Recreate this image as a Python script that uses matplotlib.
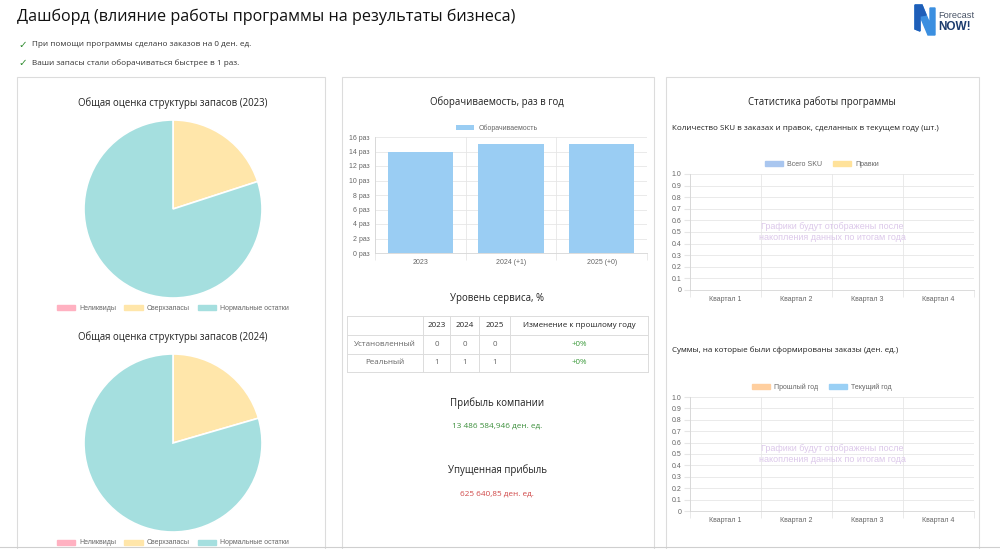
import matplotlib.pyplot as plt
from matplotlib.patches import Rectangle, Polygon
import numpy as np

W, H = 1000, 549

# --- data ---
stock_labels = ["Неликвиды", "Сверхзапасы", "Нормальные остатки"]
stock_2023 = [0, 20, 80]
stock_2024 = [0, 20.5, 79.5]
stock_colors = ["#ffb1c1", "#ffe6aa", "#a5dfdf"]

turn_years = ["2023", "2024 (+1)", "2025 (+0)"]
turn_values = [14, 15, 15]
turn_ticks = [0, 2, 4, 6, 8, 10, 12, 14, 16]

service_cols = ["", "2023", "2024", "2025", "Изменение к прошлому году"]
service_rows = ["Установленный", "Реальный"]
service_values = [[0, 0, 0], [1, 1, 1]]
service_change = ["+0%", "+0%"]

profit = "13 486 584,946 ден. ед."
lost_profit = "625 640,85 ден. ед."

quarters = ["Квартал 1", "Квартал 2", "Квартал 3", "Квартал 4"]
sku_total = []
sku_edits = []
sum_prev = []
sum_cur = []
empty_ticks = [0, 0.1, 0.2, 0.3, 0.4, 0.5, 0.6, 0.7, 0.8, 0.9, 1.0]

HEAD = ["Open Sans", "DejaVu Sans"]
CHART = ["Liberation Sans", "DejaVu Sans"]
GRID = "#e6e6e6"
TICK = "#666666"
HSIZE = 6.9


def box(x0, y0, x1, y1):
    return [x0 / W, 1 - y1 / H, (x1 - x0) / W, (y1 - y0) / H]


def fy(y):
    return 1 - y / H


fig = plt.figure(figsize=(10, 5.49), dpi=100)
bg = fig.add_axes([0, 0, 1, 1])
bg.set_xlim(0, W)
bg.set_ylim(H, 0)
bg.axis("off")

# header
bg.text(17, 17, "Дашборд (влияние работы программы на результаты бизнеса)",
        fontsize=11.6, family=HEAD, color="#111", va="center")
for y, t in [(45, "При помощи программы сделано заказов на 0 ден. ед."),
             (63, "Ваши запасы стали оборачиваться быстрее в 1 раз.")]:
    bg.text(18, y, "✓", fontsize=7.5, color="#2e8b2e", va="center", family="DejaVu Sans")
    bg.text(32, y, t, fontsize=5.9, color="#333", va="center", family=HEAD)

# logo
bg.add_patch(Polygon([(915, 5), (922, 5), (930, 24), (930, 8), (935, 8), (935, 35), (928, 35), (920, 16), (920, 31), (915, 29)],
                     closed=True, color="#3b8fe0"))
bg.add_patch(Polygon([(915, 5), (922, 5), (926, 15), (920, 16), (920, 31), (915, 29)], closed=True, color="#1e5eb8"))
bg.text(938, 16, "Forecast", fontsize=6.7, color="#4a5568", va="center", family=CHART)
bg.text(938, 27, "NOW!", fontsize=8.5, color="#1d3c6e", va="center", fontweight="bold", family=CHART)

# panels
for x0, x1 in [(17, 325), (342, 654), (666, 979)]:
    bg.add_patch(Rectangle((x0, 77), x1 - x0, 475, facecolor="white", edgecolor="#dcdcdc", lw=0.8))
bg.plot([0, W], [547, 547], color="#cfcfcf", lw=0.8)

# --- pies ---
for vals, yr, ytitle, (y0, y1), yleg in [(stock_2023, "2023", 103, (120, 298), 308),
                                          (stock_2024, "2024", 337, (354, 532), 543)]:
    bg.text(173, ytitle, f"Общая оценка структуры запасов ({yr})", fontsize=HSIZE,
            family=HEAD, color="#222", ha="center", va="center")
    ax = fig.add_axes(box(84, y0, 262, y1))
    wedges, _ = ax.pie(vals, colors=stock_colors, startangle=90, counterclock=False,
                       wedgeprops=dict(edgecolor="white", linewidth=1.2))
    ax.set_xlim(-1, 1)
    ax.set_ylim(-1, 1)
    handles = [Rectangle((0, 0), 1, 1, color=c) for c in stock_colors]
    ax.legend(handles, stock_labels, loc="center", bbox_to_anchor=(173 / W, fy(yleg)),
              bbox_transform=fig.transFigure, ncol=3, frameon=False,
              handlelength=2.6, handleheight=0.7, columnspacing=1.2, handletextpad=0.6,
              prop=dict(family=CHART, size=5), labelcolor=TICK)

# --- turnover bar chart ---
bg.text(497, 102, "Оборачиваемость, раз в год", fontsize=HSIZE, family=HEAD,
        color="#222", ha="center", va="center")
ax = fig.add_axes(box(375, 137, 647, 253))
xs = np.arange(len(turn_years))
ax.bar(xs, turn_values, width=0.72, color="#9acdf3", label="Оборачиваемость", zorder=3)
ax.set_xlim(-0.5, len(turn_years) - 0.5)
ax.set_ylim(0, 16)
ax.set_yticks(turn_ticks)
ax.set_yticklabels([f"{t} раз" for t in turn_ticks])
ax.set_xticks(xs)
ax.set_xticklabels(turn_years)
ax.set_xticks(np.arange(-0.5, len(turn_years)), minor=True)
ax.grid(axis="y", color=GRID, lw=0.6)
ax.grid(axis="x", which="minor", color=GRID, lw=0.6)
ax.tick_params(axis="both", labelsize=5, colors=TICK, length=0, pad=4)
ax.tick_params(axis="x", which="minor", length=5, color=GRID)
for lab in ax.get_xticklabels() + ax.get_yticklabels():
    lab.set_family(CHART)
for s in ["top", "right"]:
    ax.spines[s].set_visible(False)
for s in ["left", "bottom"]:
    ax.spines[s].set_color("#d6d6d6")
    ax.spines[s].set_linewidth(0.6)
ax.legend(loc="center", bbox_to_anchor=(497 / W, fy(128)), bbox_transform=fig.transFigure,
          frameon=False, handlelength=2.6, handleheight=0.7, handletextpad=0.6,
          prop=dict(family=CHART, size=5), labelcolor=TICK)

# --- service level table ---
bg.text(497, 299, "Уровень сервиса, %", fontsize=HSIZE, family=HEAD, color="#222",
        ha="center", va="center")
col_edges = [347, 423, 450, 479, 510, 648]
row_edges = [316, 335, 354, 372]
for y in row_edges:
    bg.plot([col_edges[0], col_edges[-1]], [y, y], color="#dcdcdc", lw=0.7)
for x in col_edges:
    bg.plot([x, x], [row_edges[0], row_edges[-1]], color="#dcdcdc", lw=0.7)
cx = [(a + b) / 2 for a, b in zip(col_edges[:-1], col_edges[1:])]
cy = [(a + b) / 2 for a, b in zip(row_edges[:-1], row_edges[1:])]
for c, t in zip(cx, service_cols):
    bg.text(c, cy[0], t, fontsize=5.8, family=HEAD, color="#222", ha="center", va="center")
for r, (name, vals, ch) in enumerate(zip(service_rows, service_values, service_change)):
    row = [name] + [str(v) for v in vals]
    for c, t in zip(cx, row):
        bg.text(c, cy[r + 1], t, fontsize=5.8, family=HEAD, color="#666", ha="center", va="center")
    bg.text(cx[-1], cy[r + 1], ch, fontsize=5.8, family=HEAD, color="#3c9a3c", ha="center", va="center")

# --- profit ---
bg.text(497, 403, "Прибыль компании", fontsize=HSIZE, family=HEAD, color="#222", ha="center", va="center")
bg.text(497, 426, profit, fontsize=5.9, family=HEAD, color="#3c8f3c", ha="center", va="center")
bg.text(497, 470, "Упущенная прибыль", fontsize=HSIZE, family=HEAD, color="#222", ha="center", va="center")
bg.text(497, 494, lost_profit, fontsize=5.9, family=HEAD, color="#d04848", ha="center", va="center")

# --- program statistics ---
bg.text(822, 102, "Статистика работы программы", fontsize=HSIZE, family=HEAD, color="#222",
        ha="center", va="center")


def empty_chart(y0, y1, title, ytitle, series, colors, yleg):
    bg.text(672, ytitle, title, fontsize=5.75, family=HEAD, color="#222", va="center")
    ax = fig.add_axes(box(690, y0, 974, y1))
    qx = np.arange(len(quarters))
    for i, (name, vals) in enumerate(series):
        ax.bar(qx[:len(vals)], vals, width=0.36, color=colors[i])
    ax.set_xlim(-0.5, len(quarters) - 0.5)
    ax.set_ylim(0, 1)
    ax.set_yticks(empty_ticks)
    ax.set_yticklabels(["0"] + [f"{t:.1f}" for t in empty_ticks[1:]])
    ax.set_xticks(qx)
    ax.set_xticklabels(quarters)
    ax.set_xticks(np.arange(-0.5, len(quarters)), minor=True)
    ax.grid(axis="y", color=GRID, lw=0.6)
    ax.grid(axis="x", which="minor", color=GRID, lw=0.6)
    ax.tick_params(axis="both", labelsize=5, colors=TICK, length=0, pad=4)
    ax.tick_params(axis="x", which="minor", length=5, color=GRID)
    ax.tick_params(axis="y", length=4, color=GRID, pad=2)
    for lab in ax.get_xticklabels() + ax.get_yticklabels():
        lab.set_family(CHART)
    for s in ["top", "right"]:
        ax.spines[s].set_visible(False)
    for s in ["left", "bottom"]:
        ax.spines[s].set_color("#d6d6d6")
        ax.spines[s].set_linewidth(0.6)
    handles = [Rectangle((0, 0), 1, 1, color=c) for c in colors]
    ax.legend(handles, [n for n, _ in series], loc="center", bbox_to_anchor=(822 / W, fy(yleg)),
              bbox_transform=fig.transFigure, ncol=2, frameon=False, handlelength=2.6,
              handleheight=0.7, handletextpad=0.6, columnspacing=1.5,
              prop=dict(family=CHART, size=5), labelcolor=TICK)
    ax.text(0.5, 0.5, "Графики будут отображены после\nнакопления данных по итогам года",
            transform=ax.transAxes, ha="center", va="center", fontsize=6.5,
            color="#dcc8ea", family=CHART, linespacing=1.3)


empty_chart(174, 290, "Количество SKU в заказах и правок, сделанных в текущем году (шт.)", 128,
            [("Всего SKU", sku_total), ("Правки", sku_edits)], ["#a9c6ef", "#ffe29a"], 164)
empty_chart(397, 511, "Суммы, на которые были сформированы заказы (ден. ед.)", 350,
            [("Прошлый год", sum_prev), ("Текущий год", sum_cur)], ["#ffcf9f", "#9ad0f5"], 387)

fig.savefig("out.png", dpi=100)
